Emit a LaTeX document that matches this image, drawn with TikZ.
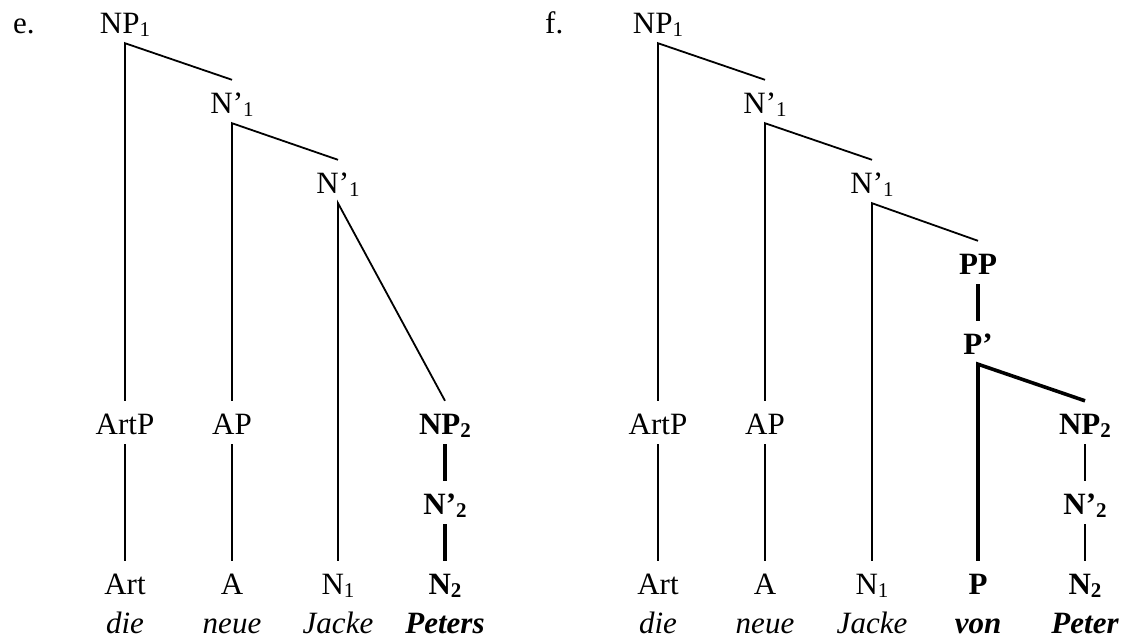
\documentclass[tikz,border=0pt]{standalone}
\usepackage{fontspec}
\setmainfont{Liberation Serif}
% subscript index set a little below the baseline
\newcommand\subidx[1]{\raisebox{-0.1em}{\fontsize{21}{21}\selectfont #1}}
\begin{document}
\begin{tikzpicture}[x=1pt,y=-1pt,
  lab/.style={inner sep=0pt, anchor=base, text height=33pt, text depth=10pt,
              font=\fontsize{31}{36}\selectfont},
  hd/.style={lab, font=\fontsize{31}{36}\selectfont\bfseries},
  wd/.style={inner sep=0pt, anchor=base, font=\fontsize{31}{36}\selectfont\itshape},
  bwd/.style={inner sep=0pt, anchor=base, font=\fontsize{31}{36}\selectfont\bfseries\itshape},
  tag/.style={inner sep=0pt, anchor=base west, font=\fontsize{31}{36}\selectfont},
  edge/.style={line width=1.8pt},
  hedge/.style={line width=3.6pt}]
\useasboundingbox (0,0) rectangle (1130,641);

% ---------- tree e ----------
\node[tag] (le) at (13,33) {e.};
\node[lab] (e-np1) at (125,33) {NP\subidx{1}};
\node[lab] (e-n1a) at (232,113) {N’\subidx{1}};
\node[lab] (e-n1b) at (338,193) {N’\subidx{1}};
\node[lab] (e-artp) at (125,434) {ArtP};
\node[lab] (e-ap) at (232,434) {AP};
\node[hd]  (e-np2) at (445,434) {NP\subidx{2}};
\node[hd]  (e-nb2) at (445,514) {N’\subidx{2}};
\node[lab] (e-art) at (125,594) {Art};
\node[lab] (e-a) at (232,594) {A};
\node[lab] (e-n1) at (338,594) {N\subidx{1}};
\node[hd]  (e-n2) at (445,594) {N\subidx{2}};
\node[wd]  (e-w1) at (125,633) {die};
\node[wd]  (e-w2) at (232,633) {neue};
\node[wd]  (e-w3) at (338,633) {Jacke};
\node[bwd] (e-w4) at (445,633) {Peters};

\draw[edge] (e-artp.north) -- (e-np1.south) -- (e-n1a.north);
\draw[edge] (e-ap.north) -- (e-n1a.south) -- (e-n1b.north);
\draw[edge] (e-n1.north) -- (e-n1b.south) -- (e-np2.north);
\draw[edge] (e-artp.south) -- (e-art.north);
\draw[edge] (e-ap.south) -- (e-a.north);
\draw[hedge] (e-np2.south) -- (e-nb2.north);
\draw[hedge] (e-nb2.south) -- (e-n2.north);

% ---------- tree f ----------
\node[tag] (lf) at (545,33) {f.};
\node[lab] (f-np1) at (658,33) {NP\subidx{1}};
\node[lab] (f-n1a) at (765,113) {N’\subidx{1}};
\node[lab] (f-n1b) at (872,193) {N’\subidx{1}};
\node[hd]  (f-pp) at (978,274) {PP};
\node[hd]  (f-pb) at (978,354) {P’};
\node[lab] (f-artp) at (658,434) {ArtP};
\node[lab] (f-ap) at (765,434) {AP};
\node[hd]  (f-np2) at (1085,434) {NP\subidx{2}};
\node[hd]  (f-nb2) at (1085,514) {N’\subidx{2}};
\node[lab] (f-art) at (658,594) {Art};
\node[lab] (f-a) at (765,594) {A};
\node[lab] (f-n1) at (872,594) {N\subidx{1}};
\node[hd]  (f-p) at (978,594) {P};
\node[hd]  (f-n2) at (1085,594) {N\subidx{2}};
\node[wd]  (f-w1) at (658,633) {die};
\node[wd]  (f-w2) at (765,633) {neue};
\node[wd]  (f-w3) at (872,633) {Jacke};
\node[bwd] (f-w4) at (978,633) {von};
\node[bwd] (f-w5) at (1085,633) {Peter};

\draw[edge] (f-artp.north) -- (f-np1.south) -- (f-n1a.north);
\draw[edge] (f-ap.north) -- (f-n1a.south) -- (f-n1b.north);
\draw[edge] (f-n1.north) -- (f-n1b.south) -- (f-pp.north);
\draw[edge] (f-artp.south) -- (f-art.north);
\draw[edge] (f-ap.south) -- (f-a.north);
\draw[hedge] (f-pp.south) -- (f-pb.north);
\draw[hedge] (f-p.north) -- (f-pb.south) -- (f-np2.north);
\draw[edge] (f-np2.south) -- (f-nb2.north);
\draw[edge] (f-nb2.south) -- (f-n2.north);
\end{tikzpicture}
\end{document}
